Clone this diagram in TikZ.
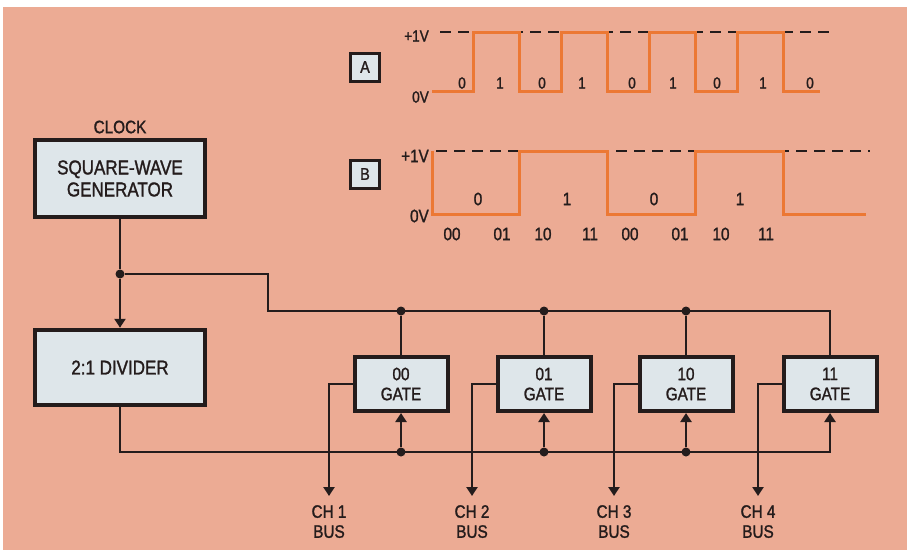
\documentclass[tikz,border=0pt]{standalone}
\usepackage{fontspec}
\setmainfont[FakeStretch=0.85,FakeBold=1.4]{Liberation Sans}
\usetikzlibrary{arrows.meta,positioning}
\definecolor{paper}{RGB}{236,171,148}
\definecolor{boxfill}{RGB}{222,230,234}
\definecolor{wave}{RGB}{236,120,52}
\definecolor{ink}{RGB}{36,28,28}
\tikzset{
  blk/.style={draw=ink,line width=4.5pt,fill=boxfill,align=center,inner sep=0pt,
    font=\fontsize{20}{22}\selectfont,text=ink,minimum width=170pt},
  gate/.style={blk,font=\fontsize{18}{20}\selectfont,minimum width=93pt,minimum height=54pt,line width=4pt},
  tag/.style={draw=ink,line width=3pt,fill=boxfill,inner sep=0pt,minimum width=29pt,
    minimum height=28pt,font=\fontsize{17}{17}\selectfont,text=ink},
  lbl/.style={text=ink,font=\fontsize{16}{16}\selectfont,inner sep=0pt},
  big/.style={lbl,font=\fontsize{18}{18}\selectfont},
  chan/.style={lbl,font=\fontsize{18}{20}\selectfont,align=center,anchor=north},
  wire/.style={draw=ink,line width=2.8pt},
  tip/.style={-{Triangle[width=11pt,length=9pt]}},
  dot/.style={circle,fill=ink,inner sep=0pt,minimum size=9pt},
  level/.style={draw=ink,line width=2.6pt,dash pattern=on 11pt off 7pt},
  sig/.style={draw=wave,line width=3pt,line join=miter}
}
\begin{document}
\begin{tikzpicture}[x=1pt,y=-1pt]
  \fill[white] (0,0) rectangle (907,554);
  \fill[paper] (3,7) rectangle (907,550);
  \useasboundingbox (0,0) rectangle (907,554);

  \node[tag] (ta) at (365,67) {A};
  \node[lbl,anchor=east] (av1) at (429,36) {+1V};
  \node[lbl,anchor=east] (av0) at (429,97) {0V};
  \draw[level] (440,32) -- (832,32);
  \draw[sig] (432,91) \foreach \k in {0,...,3}{
    -- ({473+88*\k},91) -- ({473+88*\k},32) -- ({519+88*\k},32) -- ({519+88*\k},91)} -- (820,91);
  \foreach \x/\b [count=\i] in {462/0,500/1,542/0,582/1,632/0,673/1,717/0,763/1,810/0}
    \node[lbl] (abit\i) at (\x,83) {\b};

  \node[tag] (tb) at (365,174) {B};
  \node[big,anchor=east] (bv1) at (429,156) {+1V};
  \node[big,anchor=east] (bv0) at (429,216) {0V};
  \draw[level] (436,151) -- (870,151);
  \draw[sig] (432,151) -- (432,214) \foreach \k in {0,1}{
    -- ({519+176*\k},214) -- ({519+176*\k},151) -- ({607+176*\k},151) -- ({607+176*\k},214)} -- (866,214);
  \foreach \x/\b [count=\i] in {478/0,567/1,654/0,740/1}
    \node[big] (bbit\i) at (\x,199) {\b};
  \foreach \x/\b [count=\i] in {452/00,502/01,543/10,590/11,630/00,680/01,721/10,766/11}
    \node[big] (bcode\i) at (\x,234) {\b};

  \node[lbl,font=\fontsize{18}{18}\selectfont] (clk) at (120,127) {CLOCK};
  \node[blk,minimum height=77pt] (gen) at (120,178.5) {SQUARE-WAVE\\GENERATOR};
  \node[blk,minimum height=75pt] (div) at (120,367.5) {2:1 DIVIDER};
  \node[dot] (j0) at (120,274) {};
  \draw[wire] (gen) -- (j0);
  \draw[wire,tip] (j0) -- (div);

  \foreach \x/\c [count=\i] in {401/00,544/01,686/10,830/11}{
    \node[gate] (g\i) at (\x,384) {\c\\GATE};
    \node[chan] (ch\i) at ({\x-72},505) {CH \i\\BUS};
    \draw[wire,tip,shorten >=9pt] (g\i.west) -| (ch\i.north);
  }
  \coordinate (kink) at (268,311);
  \coordinate (b4) at (830,452);
  \draw[wire] (j0) -| (kink) -| (g4);
  \draw[wire,tip] (div) |- (b4) -- (g4);
  \foreach \i in {1,2,3}{
    \node[dot] (td\i) at (g\i |- kink) {};
    \node[dot] (bd\i) at (g\i |- b4) {};
    \draw[wire] (td\i) -- (g\i);
    \draw[wire,tip] (bd\i) -- (g\i);
  }
\end{tikzpicture}
\end{document}
